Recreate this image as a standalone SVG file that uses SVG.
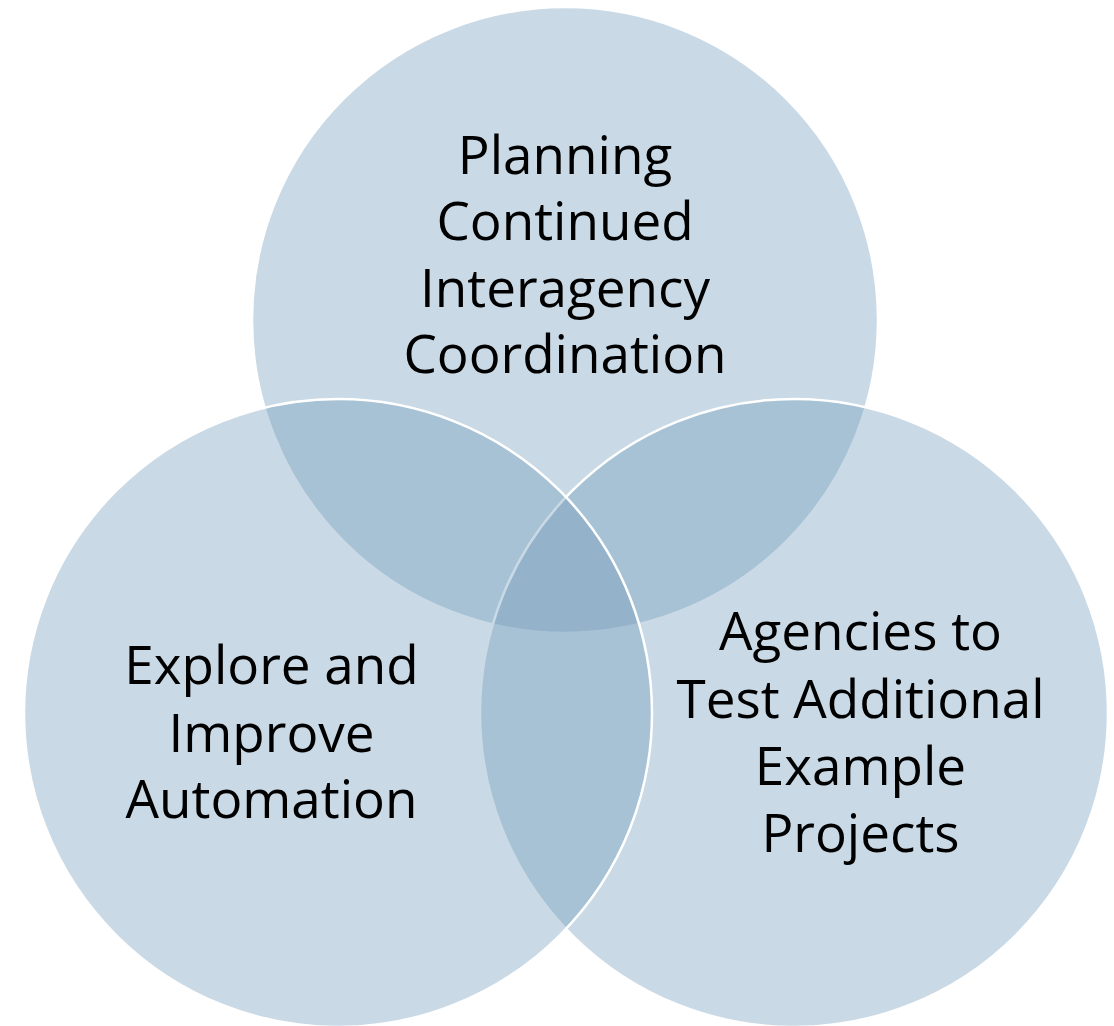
<svg xmlns="http://www.w3.org/2000/svg" width="1114" height="1026" viewBox="0 0 1114 1026">
<style>
.c{fill:#749DBC;fill-opacity:0.39;stroke:#FFFFFF;stroke-width:2.5}
.t{font-family:"Open Sans","Liberation Sans",sans-serif;font-size:53px;fill:#000;text-anchor:middle}
</style>
<rect width="1114" height="1026" fill="#FFFFFF"/>
<g id="top">
<circle class="c" cx="565" cy="320" r="313"/>
</g>
<g id="right">
<circle class="c" cx="794" cy="713" r="314"/>
</g>
<g id="left">
<circle class="c" cx="338" cy="713" r="314"/>
</g>
<g id="top-label">
<text class="t" x="565" y="173.5">Planning</text>
<text class="t" x="565" y="240">Continued</text>
<text class="t" x="565" y="306.7">Interagency</text>
<text class="t" x="565" y="373.3">Coordination</text>
</g>
<g id="right-label">
<text class="t" x="860.5" y="650">Agencies to</text>
<text class="t" x="860.5" y="718">Test Additional</text>
<text class="t" x="860.5" y="785">Example</text>
<text class="t" x="860.5" y="852">Projects</text>
</g>
<g id="left-label">
<text class="t" x="271.5" y="684">Explore and</text>
<text class="t" x="271.5" y="751.5">Improve</text>
<text class="t" x="271.5" y="818">Automation</text>
</g>
<g id="connectors"></g>
</svg>
